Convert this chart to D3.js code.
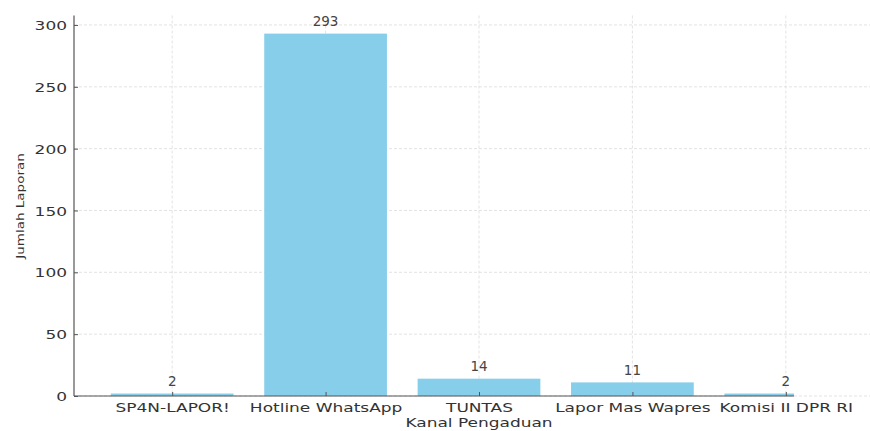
<!DOCTYPE html>
<html>
<head>
<meta charset="utf-8">
<script src="https://cdn.jsdelivr.net/npm/d3@7"></script>
<style>
  body { margin: 0; background: #fff; }
  svg text { font-family: 'DejaVu Sans', 'Verdana', sans-serif !important; }
</style>
</head>
<body>
<div id="chart"></div>
<script>
// data
const categories = ['SP4N-LAPOR!', 'Hotline WhatsApp', 'TUNTAS', 'Lapor Mas Wapres', 'Komisi II DPR RI'];
const values = [2, 293, 14, 11, 2];
const yTicks = [0, 50, 100, 150, 200, 250, 300];

const W = 870, H = 431;
const left = 74, axisEnd = 794, bottom = 396;
const squash = 0.76; // text in the picture looks vertically squeezed
const labelSize = '17px';

const svg = d3.select('#chart').append('svg')
    .attr('width', W).attr('height', H);

// category index -> pixel (matplotlib style margins)
const x = d3.scaleLinear().domain([-0.64, categories.length - 1 + 0.64]).range([left, 884]);
const yMax = d3.max(values) * 1.05;
const y = d3.scaleLinear().domain([0, yMax]).range([bottom, 15.5]);

// grid
const gridH = svg.append('g').attr('class', 'grid-h');
gridH.selectAll('line').data(yTicks).enter().append('line')
    .attr('x1', left).attr('x2', W)
    .attr('y1', d => y(d)).attr('y2', d => y(d));
const gridV = svg.append('g').attr('class', 'grid-v');
gridV.selectAll('line').data(categories).enter().append('line')
    .attr('x1', (d, i) => x(i)).attr('x2', (d, i) => x(i))
    .attr('y1', y(yMax)).attr('y2', bottom);
svg.selectAll('.grid-h line, .grid-v line')
    .style('stroke', '#dcdcdc').style('stroke-width', 0.8).style('stroke-dasharray', '3,2');

// bars (cut at the right like the picture)
svg.append('clipPath').attr('id', 'clip')
    .append('rect').attr('x', left).attr('y', 0).attr('width', axisEnd - left).attr('height', H);
const barW = x(0.8) - x(0);
svg.append('g').attr('clip-path', 'url(#clip)')
    .selectAll('rect').data(values).enter().append('rect')
    .attr('x', (d, i) => x(i - 0.4))
    .attr('y', d => y(d))
    .attr('width', barW)
    .attr('height', d => bottom - y(d))
    .style('fill', '#87CEEB');

// value labels
svg.append('g').selectAll('text').data(values).enter().append('text')
    .attr('x', (d, i) => x(i))
    .attr('y', d => y(d) - 7.5)
    .attr('text-anchor', 'middle')
    .style('font-size', '13.5px')
    .style('fill', '#444')
    .text(d => d);

// y axis
const yAxis = d3.axisLeft(y).tickValues(yTicks).tickSizeInner(-4).tickSizeOuter(0).tickPadding(7);
const yAxisDraw = svg.append('g').attr('transform', `translate(${left},0)`).call(yAxis);
yAxisDraw.select('.domain').remove();
yAxisDraw.selectAll('.tick line').style('stroke', '#555');
yAxisDraw.selectAll('.tick text')
    .style('font-size', labelSize).style('fill', '#333')
    .attr('dy', '0.36em')
    .attr('transform', `scale(1,${squash})`);
yAxisDraw.append('line')
    .attr('x1', 0).attr('x2', 0).attr('y1', y(yMax)).attr('y2', bottom)
    .style('stroke', '#555').style('stroke-width', 1.2);

// x axis
const xPoint = d3.scalePoint().domain(categories).range([x(0), x(categories.length - 1)]);
const xAxis = d3.axisBottom(xPoint).tickSizeInner(-4).tickSizeOuter(0).tickPadding(0);
const xAxisDraw = svg.append('g').attr('transform', `translate(0,${bottom})`).call(xAxis);
xAxisDraw.select('.domain').remove();
xAxisDraw.selectAll('.tick line').style('stroke', '#555');
xAxisDraw.selectAll('.tick text')
    .style('font-size', labelSize).style('fill', '#333')
    .attr('y', 16 / squash).attr('dy', 0)
    .attr('transform', `scale(1,${squash})`);
xAxisDraw.append('line')
    .attr('x1', left).attr('x2', axisEnd).attr('y1', 0).attr('y2', 0)
    .style('stroke', '#555').style('stroke-width', 1.2);

// axis titles
svg.append('text')
    .attr('transform', `translate(${(left + 884) / 2},426.5) scale(1,${squash})`)
    .attr('text-anchor', 'middle')
    .style('font-size', labelSize).style('fill', '#333')
    .text('Kanal Pengaduan');

svg.append('text')
    .attr('transform', `translate(24,206) rotate(-90) scale(1,0.8)`)
    .attr('text-anchor', 'middle')
    .style('font-size', '13.5px').style('fill', '#333')
    .text('Jumlah Laporan');
</script>
</body>
</html>
